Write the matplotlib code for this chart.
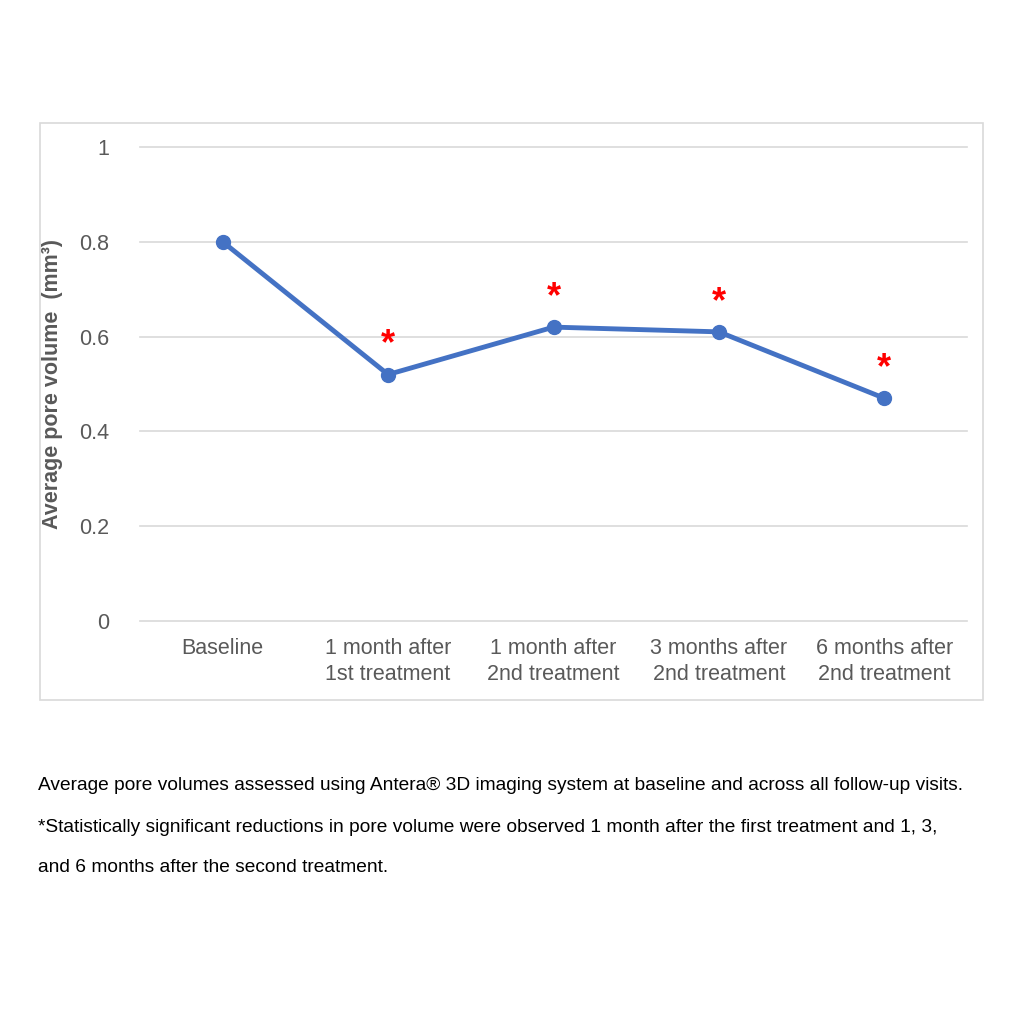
import matplotlib.pyplot as plt
from matplotlib.patches import Rectangle

categories = ['Baseline', '1 month after\n1st treatment', '1 month after\n2nd treatment',
              '3 months after\n2nd treatment', '6 months after\n2nd treatment']
values = [0.80, 0.52, 0.62, 0.61, 0.47]
significant = [False, True, True, True, True]

plt.rcParams['font.family'] = ['Liberation Sans', 'DejaVu Sans']

fig = plt.figure(figsize=(10.24, 10.24), dpi=100)

# outer chart frame
fig.patches.append(Rectangle((40/1024, 1-700/1024), 943/1024, 577/1024,
                             transform=fig.transFigure, fill=False,
                             edgecolor='#d9d9d9', linewidth=1.2))

ax = fig.add_axes([140/1024, 1-621/1024, 827/1024, 474/1024])
x = list(range(len(categories)))
ax.plot(x, values, color='#4472c4', linewidth=3.5, marker='o', markersize=10, zorder=3)
for xi, v, s in zip(x, values, significant):
    if s:
        ax.text(xi, v + 0.025, '*', color='red', fontsize=26, fontweight='bold',
                ha='center', va='bottom')

ax.set_xlim(-0.5, 4.5)
ax.set_ylim(0, 1)
ax.set_yticks([0, 0.2, 0.4, 0.6, 0.8, 1])
ax.set_yticklabels(['0', '0.2', '0.4', '0.6', '0.8', '1'])
ax.set_xticks(x)
ax.set_xticklabels(categories, linespacing=1.35)
ax.tick_params(axis='both', length=0, labelsize=15.5, colors='#595959', pad=12)
ax.tick_params(axis='y', pad=22)
ax.grid(axis='y', color='#d9d9d9', linewidth=1.2)
for gl in ax.get_ygridlines():
    gl.set_clip_on(False)
ax.set_axisbelow(True)
for sp in ax.spines.values():
    sp.set_visible(False)
ax.set_ylabel('Average pore volume  (mm³)', fontsize=15.5, fontweight='bold',
              color='#595959', labelpad=12)

captions = [
    'Average pore volumes assessed using Antera® 3D imaging system at baseline and across all follow-up visits.',
    '*Statistically significant reductions in pore volume were observed 1 month after the first treatment and 1, 3,',
    'and 6 months after the second treatment.',
]
for yy, c in zip([786, 828, 868], captions):
    fig.text(38/1024, 1-yy/1024, c, fontsize=13.8, color='black', va='center', ha='left')

fig.savefig('out.png', dpi=100)
